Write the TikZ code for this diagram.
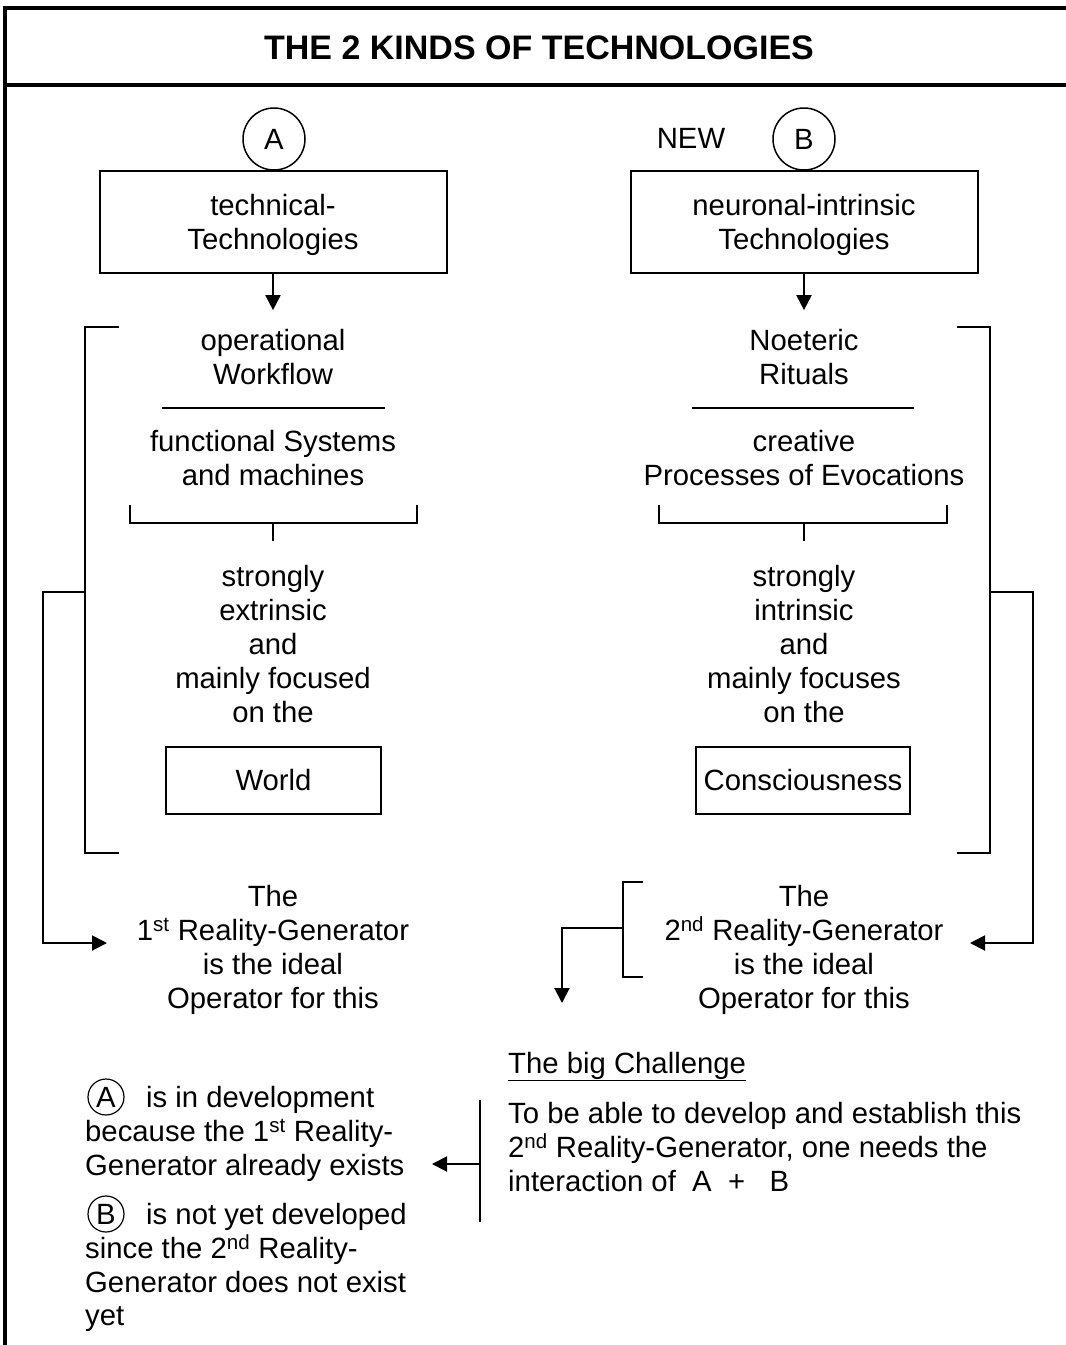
\documentclass[tikz,border=0pt]{standalone}
\usepackage{fontspec}
\setmainfont{Liberation Sans}
\usetikzlibrary{positioning,arrows.meta}

\newcommand{\bodysize}{\fontsize{29.3}{33.8}\selectfont}

\begin{document}
\begin{tikzpicture}[x=1pt,y=-1pt,
        every node/.style={font=\bodysize,inner sep=0pt},
        txt/.style={align=center},
        techbox/.style={draw,line width=2pt,minimum width=347pt,minimum height=102pt,align=center,text depth=0pt},
        aimbox/.style={draw,line width=2pt,minimum height=67pt},
        letter/.style={draw,circle,line width=1.5pt,minimum size=62pt},
        smallletter/.style={draw,circle,line width=1.2pt,minimum size=36pt},
        conn/.style={line width=2pt},
        arr/.style={conn,-{Triangle[length=15pt,width=15pt]}},
        frame/.style={line width=4pt}]
    \useasboundingbox (0,0) rectangle (1066,1345);

    \draw [frame] (5,1345) -- (5,8) -- (1066,8);
    \draw [frame] (5,85) -- (1066,85);
    \node [font=\fontsize{34}{40}\selectfont\bfseries,anchor=base] (title) at (539,59) {THE 2 KINDS OF TECHNOLOGIES};

    % left column: technical
    \node [letter] (circA) at (274,139) {A};
    \node [techbox] (techA) at (273,222) {technical-\\Technologies};
    \node [txt] (flowA) at (273,357) {operational\\Workflow};
    \node [txt] (sysA) at (273,458) {functional Systems\\and machines};
    \node [txt] (focusA) at (273,644) {strongly\\extrinsic\\and\\mainly focused\\on the};
    \node [aimbox,minimum width=215pt] (world) at (273.5,780) {World};
    \node [txt] (gen1) at (273,950) {The\\1\textsuperscript{st} Reality-Generator\\is the ideal\\Operator for this};

    \draw [arr,shorten >=19pt] (techA) -- (flowA);
    \draw [conn] (162,408) -- (385,408);
    \draw [conn] (130,505) |- (417,523) -- (417,505);
    \draw [conn] (273,523) -- (273,541);
    \draw [conn] (119,327) -| (85,853) -- (119,853);
    \coordinate (toGen1) at (107,943);
    \draw [arr] (85,592) -| (43,943) -- (toGen1);

    % right column: neuronal
    \node (new) at (691,138) {NEW};
    \node [letter] (circB) at (804,139) {B};
    \node [techbox] (techB) at (804,222) {neuronal-intrinsic\\Technologies};
    \node [txt] (flowB) at (804,357) {Noeteric\\Rituals};
    \node [txt] (sysB) at (804,458) {creative\\Processes of Evocations};
    \node [txt] (focusB) at (804,644) {strongly\\intrinsic\\and\\mainly focuses\\on the};
    \node [aimbox,minimum width=214pt] (mind) at (803,780) {Consciousness};
    \node [txt] (gen2) at (804,950) {The\\2\textsuperscript{nd} Reality-Generator\\is the ideal\\Operator for this};

    \draw [arr,shorten >=19pt] (techB) -- (flowB);
    \draw [conn] (692,408) -- (914,408);
    \draw [conn] (659,505) |- (947,523) -- (947,505);
    \draw [conn] (804,523) -- (804,541);
    \draw [conn] (957,327) -| (990,853) -- (957,853);
    \coordinate (toGen2) at (970,943);
    \draw [arr] (990,592) -| (1033,943) -- (toGen2);
    \draw [conn] (643,882) -| (623,977) -- (643,977);
    \coordinate (toChal) at (562,1003);
    \draw [arr] (623,928) -| (toChal);

    % bottom
    \node [anchor=base west] (chal) at (508,1073) {\underline{The big Challenge}};
    \node [anchor=north west,align=left] (need) at (508,1102)
        {To be able to develop and establish this\\2\textsuperscript{nd} Reality-Generator, one needs the\\interaction of\ \ A\ \ +\ \ \ B};
    \node [anchor=north west,align=left] (devA) at (85,1086)
        {\hspace*{61pt}is in development\\because the 1\textsuperscript{st} Reality-\\Generator already exists};
    \node [smallletter] (smallA) at (106,1097) {A};
    \node [anchor=north west,align=left] (devB) at (85,1203)
        {\hspace*{61pt}is not yet developed\\since the 2\textsuperscript{nd} Reality-\\Generator does not exist\\yet};
    \node [smallletter] (smallB) at (106,1214) {B};
    \coordinate (toDev) at (432,1164);
    \draw [conn] (480,1100) -- (480,1222);
    \draw [arr] (480,1164) -- (toDev);
\end{tikzpicture}
\end{document}
